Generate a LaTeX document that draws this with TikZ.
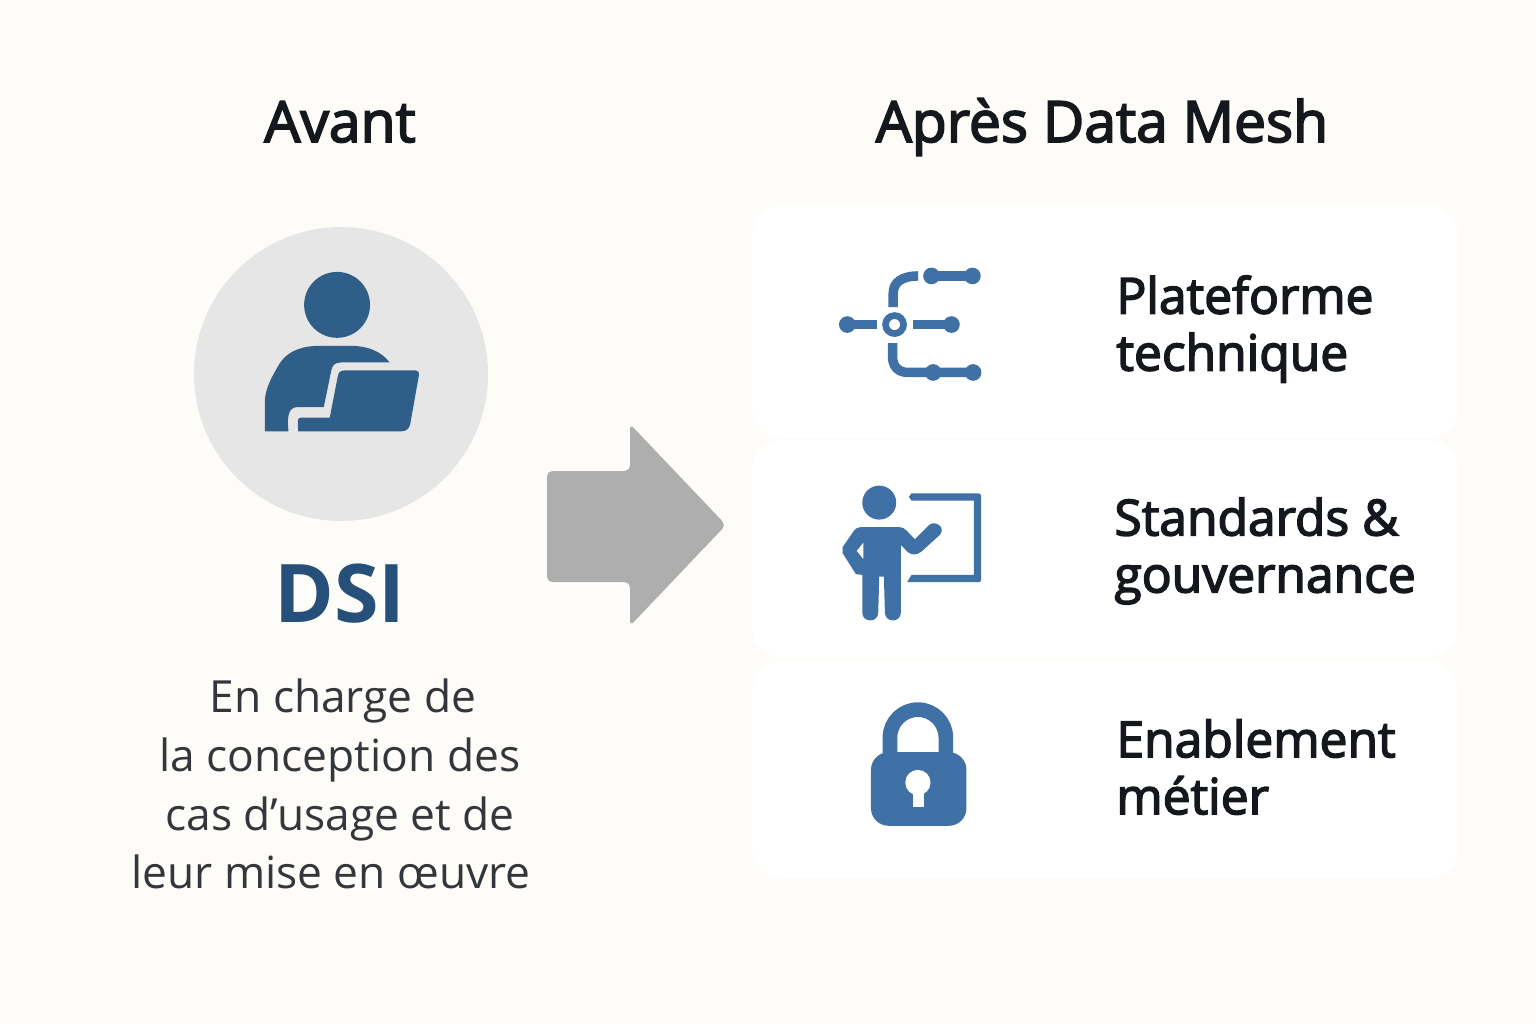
\documentclass[tikz,border=0pt]{standalone}
\usepackage{fontspec}
\setmainfont{Open Sans}
\newfontfamily\headfont{Open Sans}[FakeBold=3]
\definecolor{bgpage}{HTML}{FDFCF8}
\definecolor{discgray}{HTML}{E6E6E6}
\definecolor{navyicon}{HTML}{2F5F88}
\definecolor{blueicon}{HTML}{3F70A6}
\definecolor{dsiblue}{HTML}{26507A}
\definecolor{arrowgray}{HTML}{AEAEAE}
\definecolor{inkdark}{HTML}{14181C}
\definecolor{inktext}{HTML}{33363A}
\tikzset{
    titlelabel/.style={anchor=base,text=inkdark,font=\fontsize{16.2}{19}\headfont},
    desclabel/.style={anchor=base,text=inktext,font=\fontsize{12.6}{15}\selectfont},
    cardlabel/.style={anchor=west,align=left,text=inkdark,font=\fontsize{14.15}{16.2}\headfont},
    cardbox/.style={fill=white,rounded corners=8.5pt},
    wire/.style={draw=blueicon,line width=2.7pt}
}
\begin{document}
\begin{tikzpicture}[x=0.01cm,y=-0.01cm]
    % fond
    \fill[bgpage] (0,0) rectangle (1536,1024);
    \useasboundingbox (0,0) rectangle (1536,1024);

    % titres
    \node[titlelabel] (avant) at (340,142) {Avant};
    \node[titlelabel] (apres) at (1102,142) {Après Data Mesh};

    % disque et personne
    \fill[discgray] (341,374) circle (147);
    \begin{scope}[shift={(180,220)},x=0.00333cm,y=-0.00333cm]
        \fill[navyicon] (472,255) circle (99);
        \fill[navyicon] (255,635) -- (255,540) .. controls (258,500) and (280,465) .. (300,430)
            .. controls (325,392) and (370,378) .. (420,378) -- (510,378)
            .. controls (565,378) and (605,395) .. (630,428) -- (485,428)
            .. controls (465,428) and (458,437) .. (455,450) -- (432,562) -- (355,562)
            .. controls (330,562) and (320,580) .. (326,635) -- cycle;
        \fill[navyicon] (355,635) -- (354,604) .. controls (354,597) and (357,594) .. (364,594)
            -- (450,594) -- (474,470) .. controls (476,458) and (482,452) .. (494,452)
            -- (708,452) .. controls (716,452) and (720,458) .. (718,466) -- (692,612)
            .. controls (689,627) and (680,635) .. (665,635) -- cycle;
    \end{scope}

    % DSI
    \node[anchor=base,text=dsiblue,font=\fontsize{23}{27}\selectfont\bfseries] (dsi) at (340,622) {DSI};
    \node[desclabel] (descA) at (343,712) {En charge de};
    \node[desclabel] (descB) at (340,771) {la conception des};
    \node[desclabel] (descC) at (340,830) {cas d’usage et de};
    \node[desclabel] (descD) at (331,888) {leur mise en œuvre};

    % fleche
    \fill[arrowgray,rounded corners=1.5pt] (547,471) -- (630,471) -- (630,424) -- (726,525)
        -- (630,626) -- (630,582) -- (547,582) -- cycle;

    % cartes
    \fill[cardbox] (752,205) rectangle (1458,438);
    \fill[cardbox] (752,440) rectangle (1458,657);
    \fill[cardbox] (752,661) rectangle (1458,878);

    % icone plateforme
    \begin{scope}[shift={(820,250)},x=0.00333cm,y=-0.00333cm]
        \draw[wire] (82,224) -- (170,224);
        \draw[wire] (280,224) -- (395,224);
        \draw[wire] (220,172) -- (220,130) .. controls (220,98) and (245,78) .. (295,78);
        \draw[wire] (335,78) -- (458,78);
        \draw[wire] (218,280) -- (218,320) .. controls (218,350) and (235,368) .. (265,368) -- (460,368);
        \draw[blueicon,line width=1.9pt] (224,224) circle (27);
        \foreach \px/\py in {82/224,395/224,335/78,458/78,340/368,460/368}
            \fill[blueicon] (\px,\py) circle (25);
    \end{scope}

    % icone formateur
    \begin{scope}[shift={(820,470)},x=0.00333cm,y=-0.00333cm]
        \fill[blueicon] (178,98) circle (51);
        \fill[blueicon,even odd rule] (120,172) -- (240,172) .. controls (255,172) and (262,185) .. (285,208)
            -- (328,165) .. controls (345,150) and (380,172) .. (360,195)
            -- (305,245) .. controls (290,258) and (272,255) .. (262,245) -- (243,225)
            -- (243,428) .. controls (243,460) and (195,460) .. (195,428) -- (192,320) -- (178,320) -- (175,428)
            .. controls (175,460) and (127,460) .. (127,428) -- (127,315) -- (108,313)
            -- (68,250) -- (68,232) -- (100,185) .. controls (105,177) and (112,172) .. (120,172) -- cycle
            (130,218) -- (110,243) -- (130,268) -- cycle;
        \fill[blueicon] (275,70) -- (476,70) .. controls (481,70) and (484,73) .. (484,78) -- (484,330)
            .. controls (484,335) and (481,337) .. (476,337) -- (262,337) -- (275,315) -- (462,315)
            -- (462,92) -- (275,92) -- (267,81) -- cycle;
    \end{scope}

    % icone cadenas
    \begin{scope}[shift={(850,690)},x=0.00333cm,y=-0.00333cm]
        \draw[blueicon,line width=4.17pt] (120,200) -- (120,143) arc[start angle=180,end angle=0,x radius=84,y radius=-84] -- (288,200);
        \fill[blueicon,rounded corners=5pt] (63,187) rectangle (350,408);
        \fill[white] (204,278) circle (38);
        \fill[white] (188,295) rectangle (222,352);
    \end{scope}

    % textes des cartes
    \node[cardlabel] (plateforme) at (1104,329) {Plateforme\\technique};
    \node[cardlabel] (standards) at (1102,551) {Standards \&\\gouvernance};
    \node[cardlabel] (enablement) at (1104,767) {Enablement\\métier};
\end{tikzpicture}
\end{document}
